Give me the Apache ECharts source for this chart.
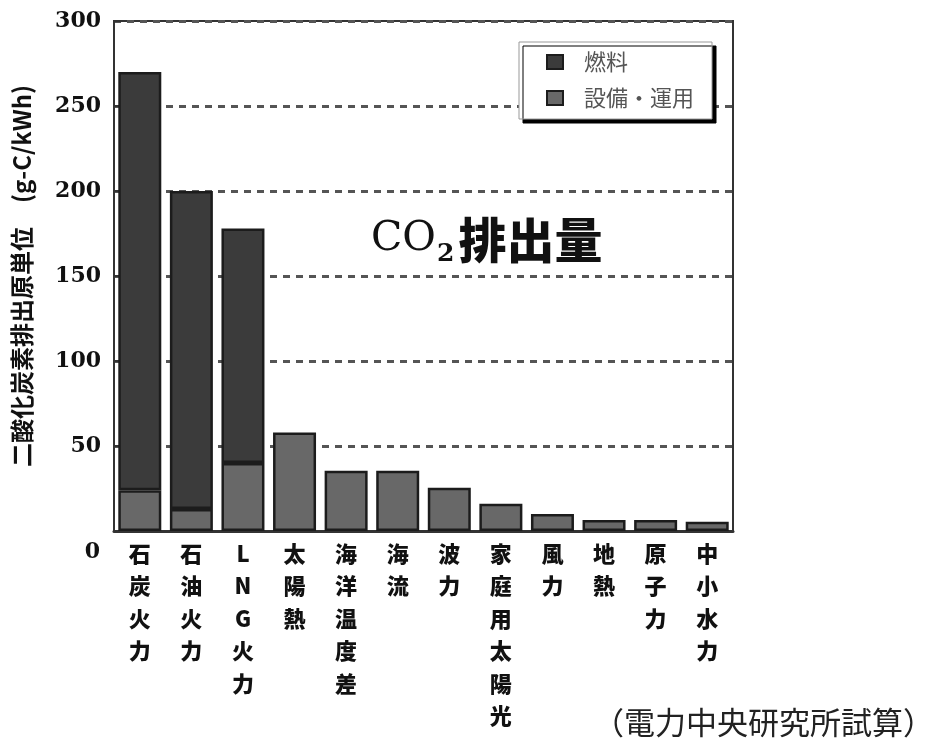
<!DOCTYPE html>
<html>
<head>
<meta charset="utf-8">
<script src="https://cdn.jsdelivr.net/npm/echarts@6/dist/echarts.min.js"></script>
<style>
  html, body { margin: 0; padding: 0; background: #fff; }
  #chart { width: 926px; height: 749px; }
</style>
</head>
<body>
<div id="chart"></div>
<script>
// Power sources (x categories)
const categories = ['石炭火力', '石油火力', 'LNG火力', '太陽熱', '海洋温度差', '海流',
                    '波力', '家庭用太陽光', '風力', '地熱', '原子力', '中小水力'];
// Emissions from fuel combustion (g-C/kWh)
const fuel = [246, 187, 138, null, null, null, null, null, null, null, null, null];
// Emissions from equipment and operation (g-C/kWh)
const equipment = [24, 13, 40, 58, 35.5, 35.5, 25.5, 16, 10, 6.5, 6.5, 5.5];
// Y axis ticks
const yMin = 0, yMax = 300, yStep = 50;

const seriesNames = ['燃料', '設備・運用'];
const cjk = '"Noto Sans CJK JP", "Noto Sans", sans-serif';
const serif = '"DejaVu Serif", "Liberation Serif", serif';

const chart = echarts.init(document.getElementById('chart'), null, { renderer: 'canvas' });

chart.setOption({
  backgroundColor: '#fff',
  animation: false,
  title: [
    {
      left: 366, top: 210,
      text: '{a|CO}{b|2}{c|排出量}',
      textStyle: {
        rich: {
          a: { fontFamily: serif, fontSize: 41, fontWeight: 'normal', color: '#111', verticalAlign: 'bottom', lineHeight: 52, padding: [0, 0, 7, 0] },
          b: { fontFamily: serif, fontSize: 25, fontWeight: 'bold', color: '#111', verticalAlign: 'bottom', lineHeight: 52, padding: [0, 4, 0, 1] },
          c: { fontFamily: cjk, fontSize: 48, fontWeight: 900, color: '#111', verticalAlign: 'bottom', lineHeight: 52, padding: [0, 0, 3, 0] }
        }
      }
    },
    {
      left: 588, top: 702,
      text: '（電力中央研究所試算）',
      textStyle: { fontFamily: cjk, fontSize: 31, fontWeight: 'normal', color: '#222' }
    }
  ],
  legend: {
    orient: 'vertical',
    left: 519, top: 42,
    data: seriesNames,
    icon: 'rect',
    itemWidth: 16, itemHeight: 14,
    itemGap: 14,
    padding: [9, 18, 10, 27],
    backgroundColor: '#fff',
    borderColor: '#999', borderWidth: 1,
    shadowColor: '#000', shadowOffsetX: 4, shadowOffsetY: 4, shadowBlur: 0,
    textStyle: { fontFamily: cjk, fontSize: 22, color: '#555', padding: [0, 0, 0, 16] }
  },
  grid: {
    left: 114, right: 193, top: 21, bottom: 218,
    show: true, borderColor: '#333', borderWidth: 2
  },
  xAxis: {
    type: 'category',
    data: categories,
    axisLine: { lineStyle: { color: '#333', width: 3 } },
    axisTick: { show: false },
    axisLabel: {
      interval: 0,
      margin: 6,
      fontFamily: cjk, fontSize: 22, fontWeight: 900, color: '#111',
      lineHeight: 32.5,
      formatter: v => v.split('').join('\n')
    }
  },
  yAxis: {
    type: 'value',
    min: yMin, max: yMax, interval: yStep,
    name: '二酸化炭素排出原単位　(g-C/kWh)',
    nameLocation: 'middle',
    nameRotate: 90,
    nameGap: 80,
    nameTextStyle: { fontFamily: cjk, fontSize: 24, fontWeight: 'bold', color: '#111' },
    axisLine: { show: true, lineStyle: { color: '#333', width: 2 } },
    axisTick: { show: true, inside: true, length: 8, lineStyle: { color: '#333', width: 2 } },
    axisLabel: {
      margin: 13,
      fontFamily: serif, fontSize: 22, fontWeight: 'bold', color: '#111',
      formatter: v => v === 0 ? '{z|0}' : String(v),
      rich: { z: { fontFamily: serif, fontSize: 22, fontWeight: 'bold', color: '#111', padding: [42, 1, 0, 0] } }
    },
    splitLine: { show: true, lineStyle: { color: '#555', width: 3, type: [7, 6] } }
  },
  series: [
    {
      name: seriesNames[1], type: 'bar', stack: 'total', data: equipment,
      barWidth: 43,
      itemStyle: { color: '#686868', borderColor: '#1c1c1c', borderWidth: 2.5 }
    },
    {
      name: seriesNames[0], type: 'bar', stack: 'total', data: fuel,
      barWidth: 43,
      itemStyle: { color: '#3b3b3b', borderColor: '#1c1c1c', borderWidth: 2.5 }
    }
  ]
});
</script>
</body>
</html>
